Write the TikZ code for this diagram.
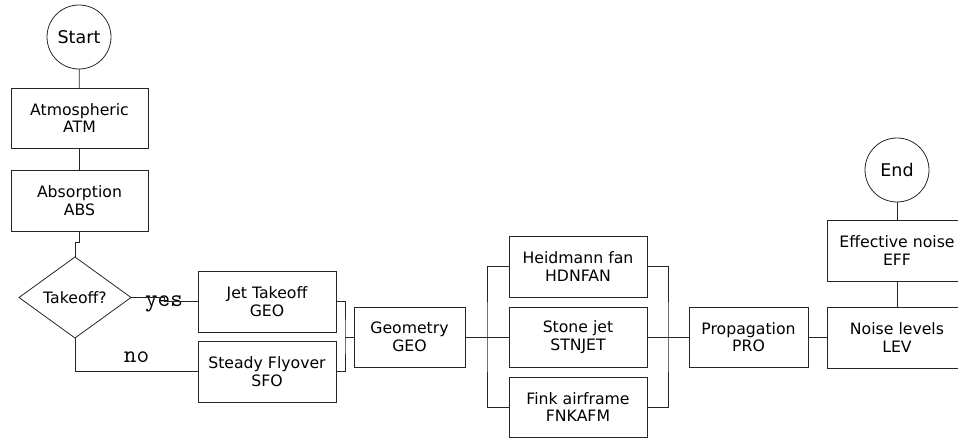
\documentclass[tikz,border=0pt]{standalone}
\usepackage{fontspec}
\setmainfont{DejaVu Sans}
\usetikzlibrary{shapes.geometric}
\begin{document}
\begin{tikzpicture}[x=1pt,y=-1pt,
  every node/.style={inner sep=0pt, outer sep=0pt},
  txt/.style={font=\fontsize{15.7}{17.5}\selectfont, align=center},
  box/.style={txt, draw=black!85, line width=0.8pt, rectangle, minimum width=138pt, minimum height=61pt},
  term/.style={draw=black!85, line width=0.8pt, circle, minimum size=64pt, font=\fontsize{17.5}{20}\selectfont},
  decision/.style={txt, draw=black!85, line width=0.8pt, diamond, minimum width=112pt, minimum height=81pt},
  conn/.style={draw=black!85, line width=0.8pt},
  lbl/.style={font=\fontsize{24.5}{25}\selectfont\ttfamily, anchor=base}]
\useasboundingbox (0,0) rectangle (958,438);
\clip (0,0) rectangle (958,438);
% nodes
\node[term] (start) at (79,37) {Start};
\node[box, minimum width=137pt, minimum height=60pt] (atm) at (79.5,118) {Atmospheric\\ATM};
\node[box, minimum width=137pt] (abs) at (79.5,200.5) {Absorption\\ABS};
\node[decision] (dec) at (75,297.5) {Takeoff?};
\node[box] (jet) at (267,301.5) {Jet Takeoff\\GEO};
\node[box] (sfo) at (267,371.5) {Steady Flyover\\SFO};
\node[box, minimum width=111pt, minimum height=60pt] (geo) at (409.5,337) {Geometry\\GEO};
\node[box] (hdn) at (578,266.5) {Heidmann fan\\HDNFAN};
\node[box, minimum height=60pt] (stn) at (578,337) {Stone jet\\STNJET};
\node[box, minimum height=60pt] (fnk) at (578,407) {Fink airframe\\FNKAFM};
\node[box, minimum width=119pt, minimum height=60pt] (pro) at (748.5,337) {Propagation\\PRO};
\node[box, minimum width=140pt] (lev) at (897,337.5) {Noise levels\\LEV};
\node[box, minimum width=140pt] (eff) at (897,250.5) {Effective noise\\EFF};
\node[term] (end) at (897,170) {End};
\node[lbl] (yes) at (164,306) {yes};
\node[lbl] (no) at (136.5,362) {no};
% helper coordinates
\coordinate (j1) at (0,242);
\coordinate (b1) at (345,337);
\coordinate (b2) at (487,337);
\coordinate (b3) at (668,337);
% connectors
\draw[conn] (start) -- (atm);
\draw[conn] (atm) -- (abs);
\draw[conn] (abs.south) -- (abs.south |- j1) -- (dec.north |- j1) -- (dec.north);
\draw[conn] (dec.east) -- (dec.east -| yes) |- (jet.west);
\draw[conn] (dec.south) |- (sfo.west);
\draw[conn] (jet.east) -| (b1) |- (sfo.east);
\draw[conn] (b1) -- (geo.west);
\draw[conn] (geo.east) -- (stn.west);
\draw[conn] (hdn.west) -| (b2) |- (fnk.west);
\draw[conn] (stn.east) -- (pro.west);
\draw[conn] (hdn.east) -| (b3) |- (fnk.east);
\draw[conn] (pro.east) -- (pro.east -| lev.west);
\draw[conn] (lev.north) -- (eff.south);
\draw[conn] (eff.north) -- (end.south);
\end{tikzpicture}
\end{document}
